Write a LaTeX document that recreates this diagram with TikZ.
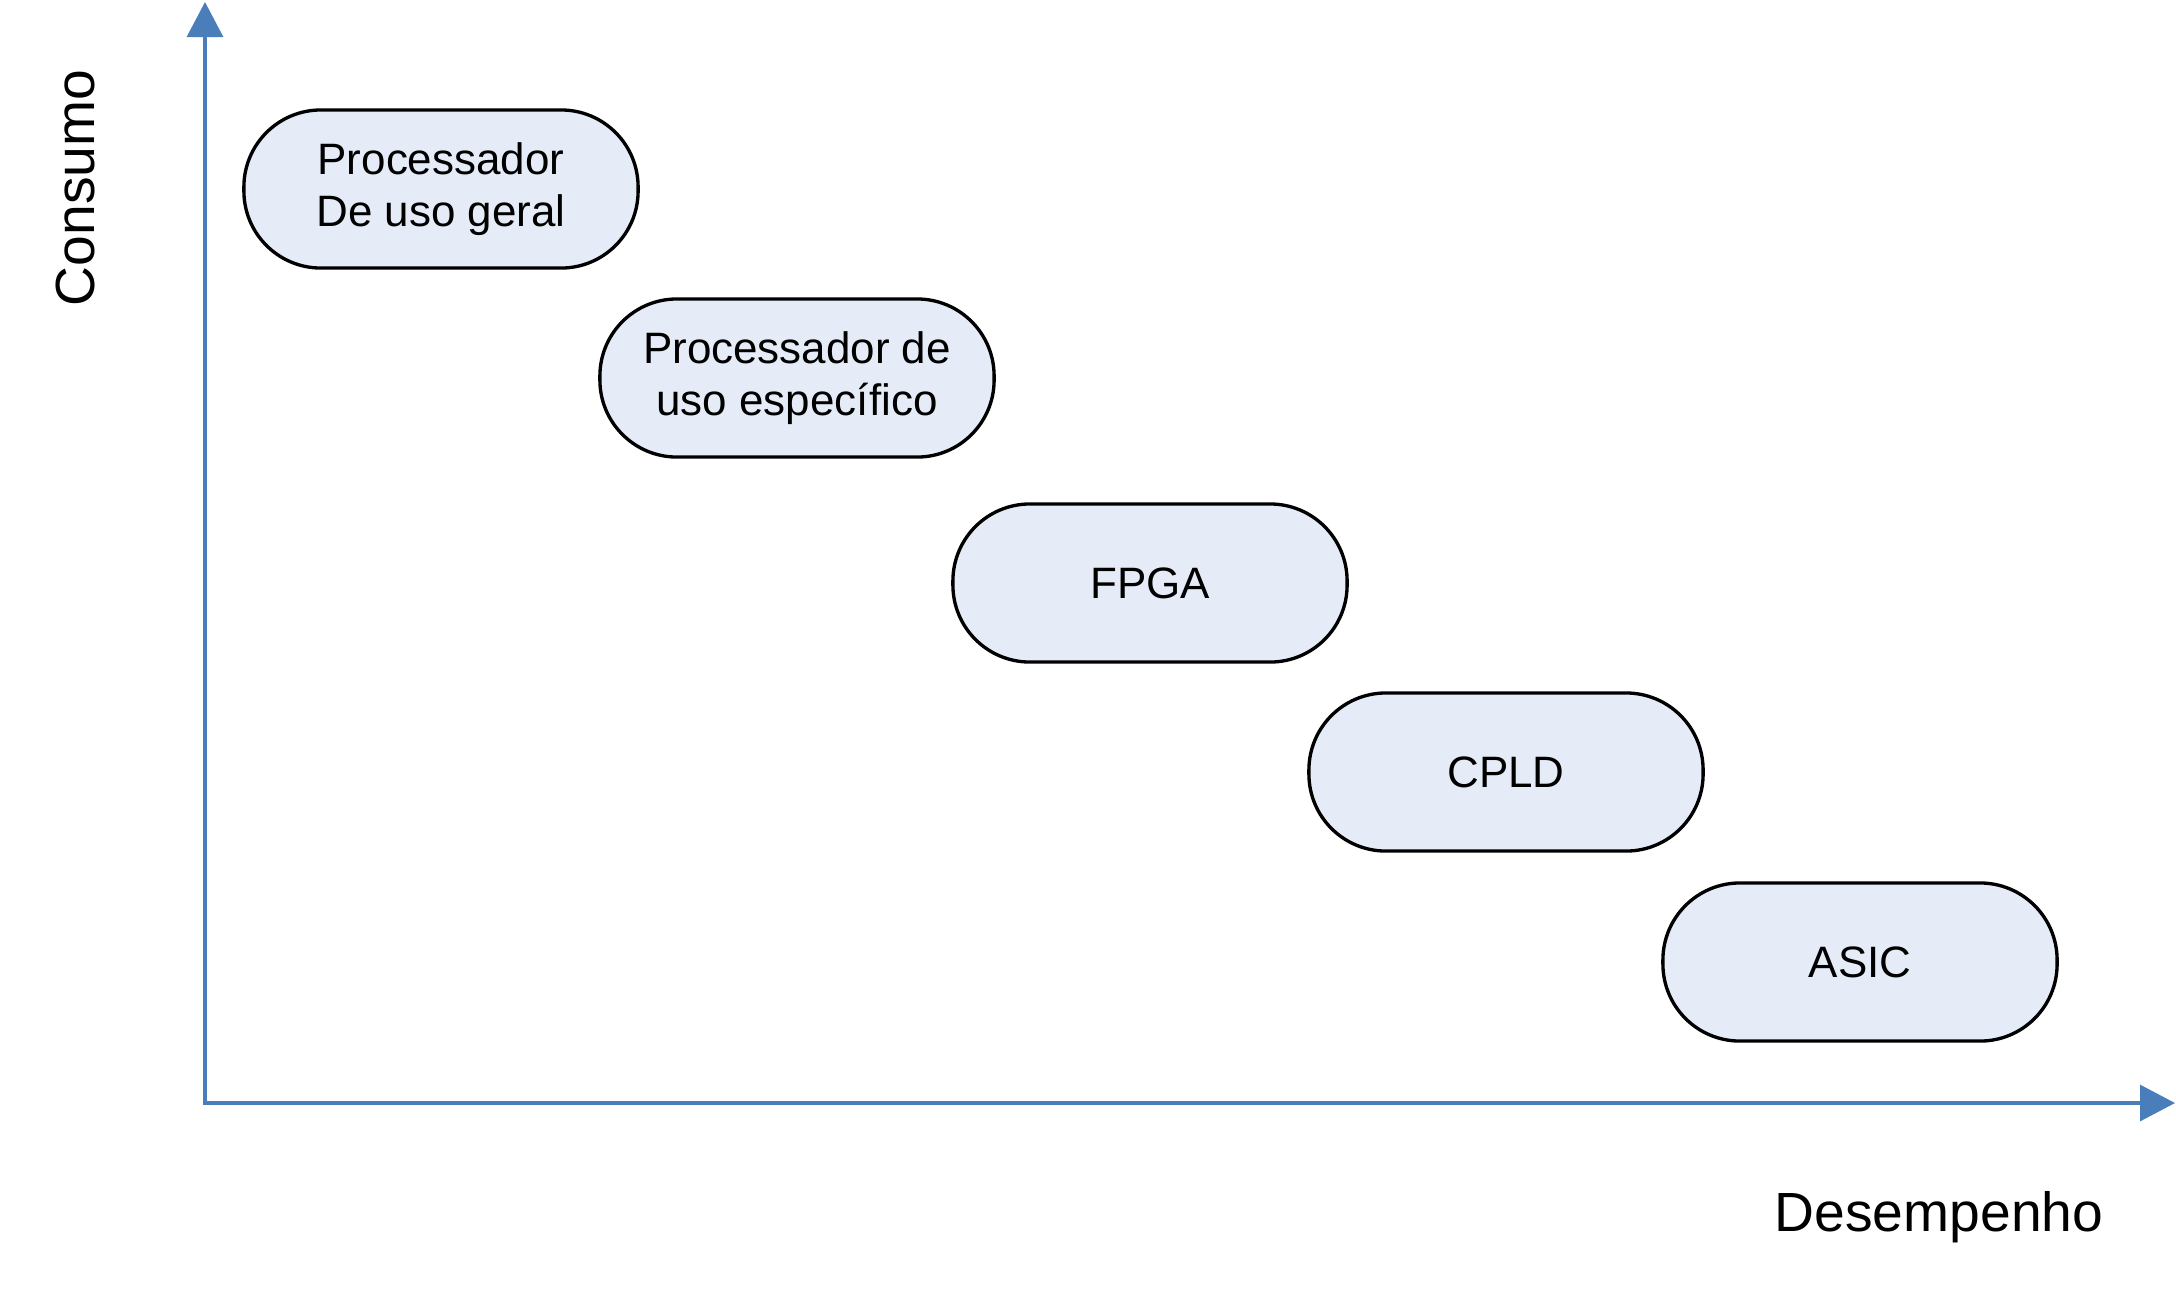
\documentclass[tikz,border=0pt]{standalone}
\usepackage{fontspec}
\setmainfont{Liberation Sans}
\usetikzlibrary{arrows.meta}
\definecolor{axisblue}{HTML}{4A7EBB}
\definecolor{boxfill}{HTML}{E6ECF7}
\tikzset{
  stadium/.style={draw=black, line width=0.95pt, fill=boxfill, rectangle,
    rounded corners=0.77cm, minimum width=3.94cm, minimum height=1.58cm,
    inner sep=0pt, align=center, font=\fontsize{12.5}{15}\selectfont},
  axisline/.style={draw=axisblue, line width=0.032cm,
    {Triangle[length=0.35cm,width=0.36cm]}-{Triangle[length=0.35cm,width=0.36cm]}},
  axislabel/.style={inner sep=0pt, font=\fontsize{15.7}{18.8}\selectfont}
}
\begin{document}
\begin{tikzpicture}[x=0.01cm,y=-0.01cm]
\useasboundingbox (0,0) rectangle (2176,1293);
\coordinate (ytop) at (205,2);
\coordinate (origin) at (205,1103);
\coordinate (xend) at (2175,1103);
\draw[axisline] (ytop) -- (origin) -- (xend);
\node[axislabel, rotate=90] (consumo) at (75,188) {Consumo};
\node[axislabel, anchor=base] (desemp) at (1939,1231) {Desempenho};
\node[stadium] (p1) at (441,189) {Processador\\De uso geral};
\node[stadium] (p2) at (797,378) {Processador de\\uso específico};
\node[stadium] (fpga) at (1150,583) {FPGA};
\node[stadium] (cpld) at (1506,772) {CPLD};
\node[stadium] (asic) at (1860,962) {ASIC};
\end{tikzpicture}
\end{document}
